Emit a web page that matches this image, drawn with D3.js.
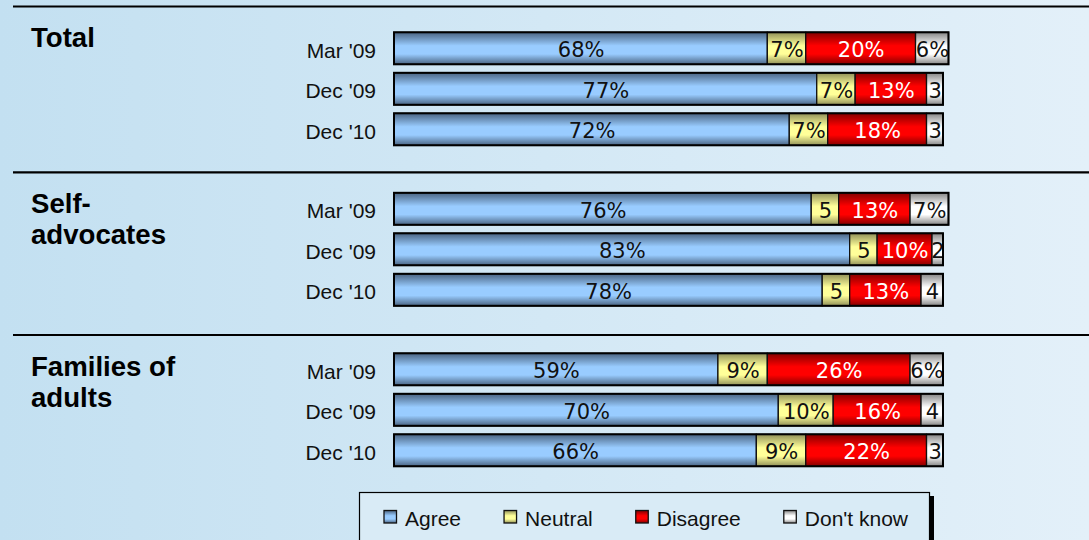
<!DOCTYPE html>
<html><head><meta charset="utf-8">
<script src="https://cdn.jsdelivr.net/npm/d3@7/dist/d3.min.js"></script>
<style>html,body{margin:0;padding:0;overflow:hidden;background:#d4e8f5}svg{display:block}</style>
</head><body>
<svg id="chart" width="1089" height="540"></svg>
<script>
// ---- data ----
const groups = ["Total", "Self-advocates", "Families of adults"];
const groupLabelLines = [["Total"], ["Self-", "advocates"], ["Families of", "adults"]];
const periods = ["Mar '09", "Dec '09", "Dec '10"];
const seriesNames = ["Agree", "Neutral", "Disagree", "Don't know"];
// order: Total (Mar'09, Dec'09, Dec'10), Self-advocates (...), Families of adults (...)
const agree     = [68, 77, 72, 76, 83, 78, 59, 70, 66];
const neutral   = [ 7,  7,  7,  5,  5,  5,  9, 10,  9];
const disagree  = [20, 13, 18, 13, 10, 13, 26, 16, 22];
const dontKnow  = [ 6,  3,  3,  7,  2,  4,  6,  4,  3];

const table = [];
groups.forEach((g, gi) => periods.forEach((p, pi) => {
  const i = gi * periods.length + pi;
  table.push({group: g, period: p, "Agree": agree[i], "Neutral": neutral[i], "Disagree": disagree[i], "Don't know": dontKnow[i]});
}));

// ---- layout ----
const W = 1089, H = 540;
const FONT = "'Liberation Sans', Arial, sans-serif";
const FONT2 = "'DejaVu Sans', Verdana, sans-serif";
const svg = d3.select("#chart");
const defs = svg.append("defs");

const bg = defs.append("linearGradient").attr("id", "bg").attr("x1", 0).attr("x2", 1).attr("y1", 0).attr("y2", 0);
bg.append("stop").attr("offset", 0).attr("stop-color", "#c3e0f1");
bg.append("stop").attr("offset", 1).attr("stop-color", "#e3f0f9");
svg.append("rect").attr("width", W).attr("height", H).attr("fill", "url(#bg)");

const baseColors = {"Agree": "#99ccff", "Neutral": "#ffff99", "Disagree": "#ff0000", "Don't know": "#ffffff"};
const darkColors = {"Agree": "#4a6482", "Neutral": "#909058", "Disagree": "#840000", "Don't know": "#858585"};
const textColors = {"Agree": "#111", "Neutral": "#111", "Disagree": "#fff", "Don't know": "#111"};
seriesNames.forEach((s, i) => {
  const lg = defs.append("linearGradient").attr("id", "g" + i).attr("x1", 0).attr("x2", 0).attr("y1", 0).attr("y2", 1);
  [[0, darkColors[s]], [0.42, baseColors[s]], [0.68, baseColors[s]], [1, darkColors[s]]].forEach(([o, c]) =>
    lg.append("stop").attr("offset", o).attr("stop-color", c));
});
const fillOf = s => "url(#g" + seriesNames.indexOf(s) + ")";

const x = d3.scaleLinear().domain([0, 100]).range([394, 943]);
const yGroup = d3.scalePoint().domain(groups).range([32.3, 353.3]);
const yRow = d3.scalePoint().domain(periods).range([0, 81]);
const barH = 32;
const yOf = d => yGroup(d.group) + yRow(d.period);

// separator lines
const sepY = [6.5, 172.3, 335];
svg.selectAll("line.sep").data(sepY).join("line").attr("class", "sep")
  .attr("x1", 13).attr("x2", W).attr("y1", d => d).attr("y2", d => d)
  .attr("stroke", "#000").attr("stroke-width", 2.2);

// group labels
groups.forEach((g, gi) => {
  svg.append("text").attr("x", 31).attr("y", sepY[gi] + 40.5)
    .attr("font-family", FONT).attr("font-weight", "bold").attr("font-size", 27.6).attr("fill", "#000")
    .selectAll("tspan").data(groupLabelLines[gi]).join("tspan")
    .attr("x", 31).attr("dy", (d, i) => i === 0 ? 0 : 31.5).text(d => d);
});

// row labels
svg.selectAll("text.row").data(table).join("text").attr("class", "row")
  .attr("x", 376).attr("y", d => yOf(d) + barH / 2 + 9.5)
  .attr("text-anchor", "end").attr("font-family", FONT).attr("font-size", 21).attr("fill", "#111")
  .text(d => d.period);

// stacked bars
const stack = d3.stack().keys(seriesNames)(table);
const layers = svg.selectAll("g.layer").data(stack).join("g").attr("class", "layer");
layers.selectAll("rect").data(L => L.map(p => ({key: L.key, p}))).join("rect")
  .attr("x", d => x(d.p[0])).attr("width", d => x(d.p[1]) - x(d.p[0]))
  .attr("y", d => yOf(d.p.data)).attr("height", barH)
  .attr("fill", d => fillOf(d.key)).attr("stroke", "#111").attr("stroke-width", 1.3);
// outer border
svg.selectAll("rect.outline").data(table).join("rect").attr("class", "outline")
  .attr("x", x(0)).attr("y", d => yOf(d))
  .attr("width", d => x(d3.sum(seriesNames, s => d[s])) - x(0)).attr("height", barH)
  .attr("fill", "none").attr("stroke", "#000").attr("stroke-width", 2);
// value labels
layers.selectAll("text").data(L => L.map(p => ({key: L.key, p}))).join("text")
  .attr("x", d => (x(d.p[0]) + x(d.p[1])) / 2 + 0.5).attr("y", d => yOf(d.p.data) + barH / 2 + 9)
  .attr("text-anchor", "middle").attr("font-family", FONT2).attr("font-size", 21)
  .attr("fill", d => textColors[d.key])
  .text(d => { const v = d.p.data[d.key]; return v > 5 ? v + "%" : String(v); });

// legend
const lg = svg.append("g");
lg.append("rect").attr("x", 934 - 5).attr("y", 496).attr("width", 5).attr("height", 60).attr("fill", "#000");
lg.append("rect").attr("x", 359.5).attr("y", 492.5).attr("width", 570).attr("height", 60)
  .attr("fill", "#d9ebf6").attr("stroke", "#000").attr("stroke-width", 1.2);
let lx = 384;
seriesNames.forEach((s, i) => {
  lg.append("rect").attr("x", lx).attr("y", 510.5).attr("width", 12.5).attr("height", 12.5)
    .attr("fill", fillOf(s)).attr("stroke", "#111").attr("stroke-width", 1.3);
  const t = lg.append("text").attr("x", lx + 21).attr("y", 525.5)
    .attr("font-family", FONT).attr("font-size", 21).attr("fill", "#111").text(s);
  lx += 21 + t.node().getComputedTextLength() + 43;
});
</script>
</body></html>
